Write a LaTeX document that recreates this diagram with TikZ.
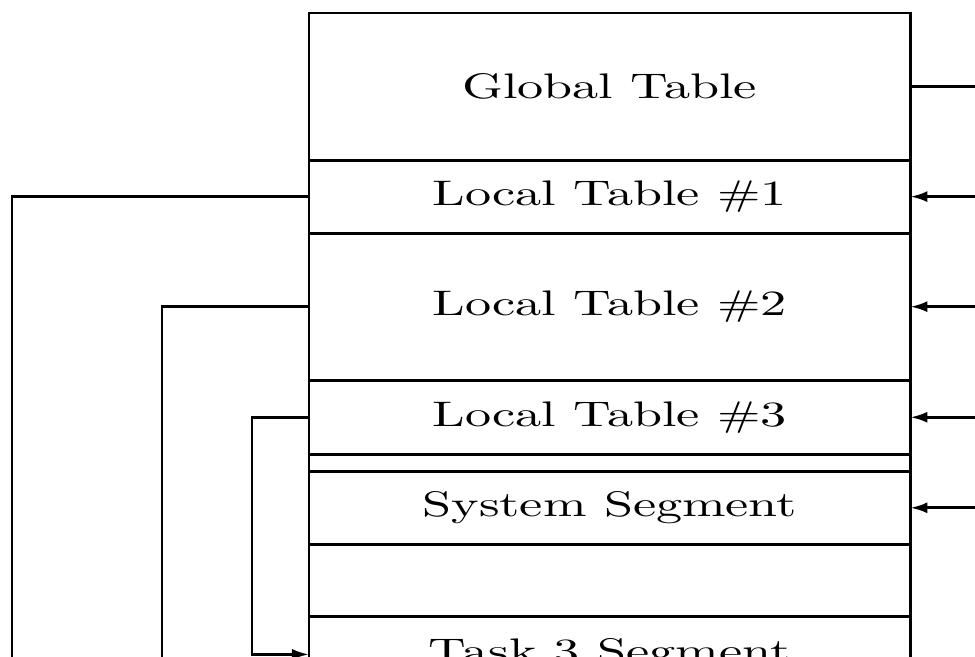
\documentclass[tikz,border=0pt]{standalone}
\usepackage{graphicx}
\usetikzlibrary{arrows.meta, positioning}
\newcommand{\seglabel}[1]{\scalebox{1.47}[1]{#1}}
\begin{document}
\begin{tikzpicture}[x=0.01cm, y=-0.01cm,
    seg/.style={rectangle, draw, line width=0.8pt, minimum width=6.01cm,
                inner sep=0pt, outer sep=0pt, align=center,
                font=\fontsize{10.1}{12}\selectfont},
    link/.style={line width=0.8pt},
    ptr/.style={line width=0.8pt, -{Latex[length=1.7mm, width=1.1mm]}},
  ]
    \useasboundingbox (0,0) rectangle (975,656);
    \clip (0,0) rectangle (975,656);

    % segment stack
    \node[seg, minimum height=1.47cm, anchor=north west] (gt) at (309,13)
      {\seglabel{Global Table}};
    \node[seg, minimum height=0.73cm, below=0pt of gt] (lt1)
      {\seglabel{Local Table \#1}};
    \node[seg, minimum height=1.47cm, below=0pt of lt1] (lt2)
      {\seglabel{Local Table \#2}};
    \node[seg, minimum height=0.74cm, below=0pt of lt2] (lt3)
      {\seglabel{Local Table \#3}};
    \node[seg, minimum height=0.17cm, below=0pt of lt3] (gap) {};
    \node[seg, minimum height=0.73cm, below=0pt of gap] (sys)
      {\seglabel{System Segment}};
    \node[seg, minimum height=0.72cm, below=0pt of sys] (free) {};
    \node[seg, minimum height=0.76cm, below=0pt of free] (t3)
      {\seglabel{Task 3 Segment}};

    % rails
    \coordinate (rim) at (975,0);
    \coordinate (bot) at (0,700);
    \coordinate (c1) at (12,0);
    \coordinate (c2) at (162,0);
    \coordinate (c3) at (252,0);

    % right side
    \draw[link] (gt.east) -- (gt.east -| rim);
    \foreach \n in {lt1, lt2, lt3, sys}
      \draw[ptr] (\n.east -| rim) -- (\n.east);

    % left side
    \draw[link] (lt1.west) -- (lt1.west -| c1) -- (c1 |- bot);
    \draw[link] (lt2.west) -- (lt2.west -| c2) -- (c2 |- bot);
    \draw[ptr] (lt3.west) -- (lt3.west -| c3) -- (c3 |- t3.west) -- (t3.west);
\end{tikzpicture}
\end{document}
